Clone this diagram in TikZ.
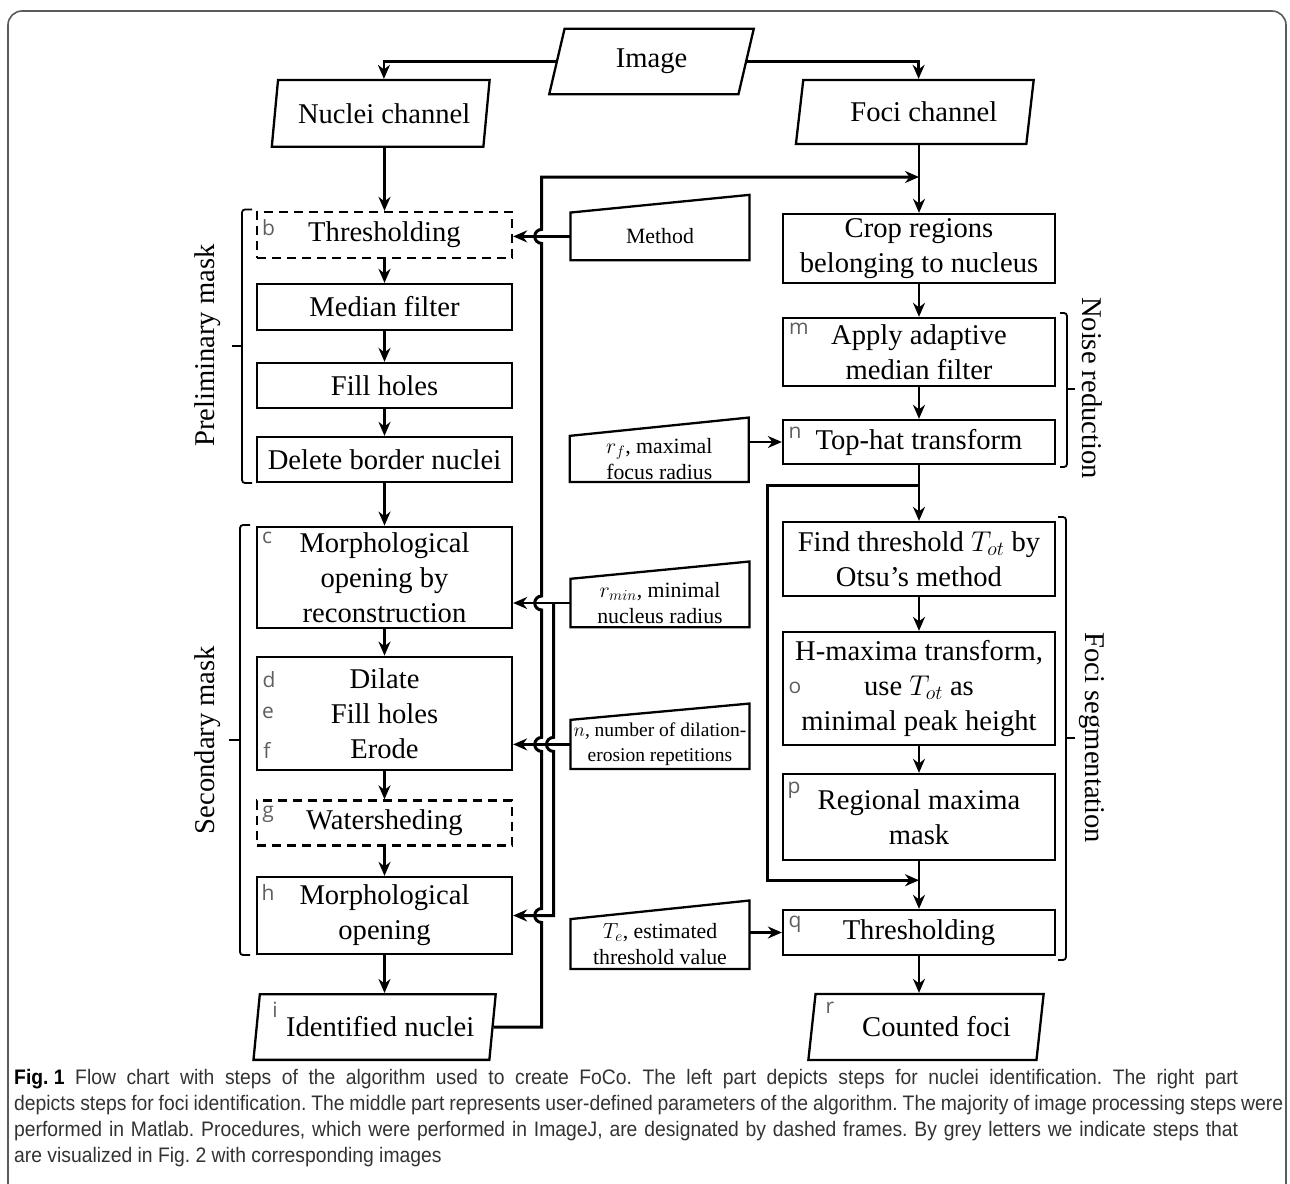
\RequirePackage{fix-cm}
\documentclass[tikz,border=0pt]{standalone}
\usepackage{fontspec}
\setmainfont{Liberation Serif}
\newfontfamily\tagfont{Open Sans}
\newfontfamily\capfont[FakeStretch=0.92]{Liberation Sans}
\usetikzlibrary{shapes.geometric,arrows.meta,calc}
\definecolor{taggray}{RGB}{95,95,95}
\definecolor{framegray}{RGB}{90,90,90}
\definecolor{captext}{RGB}{50,50,50}

\begin{document}
\begin{tikzpicture}[x=1pt, y=-1pt,
	 boxtext/.style={font=\fontsize{28.6}{35}\selectfont, align=center},
	 procbox/.style={boxtext, draw, line width=2.3pt, inner sep=3pt, minimum width=255pt},
	 rightbox/.style={procbox, minimum width=272pt},
	 imagejbox/.style={procbox, dash pattern=on 9pt off 6pt},
	 iobox/.style={boxtext, draw, line width=2.3pt, trapezium, trapezium left angle=77,
	   trapezium right angle=103, trapezium stretches=true, inner sep=2pt},
	 parambox/.style={font=\fontsize{21.8}{26}\selectfont, align=center, minimum width=178.6pt, inner sep=1pt},
	 tag/.style={font=\tagfont\fontsize{21}{21}\selectfont, text=taggray, inner sep=0pt},
	 grouplabel/.style={boxtext, inner sep=0pt},
	 capline/.style={anchor=west, inner sep=0pt, font=\capfont\fontsize{21}{21}\selectfont\frenchspacing, text=captext},
	 arr/.style={line width=2.3pt, -{Stealth[length=14pt,width=12pt]}},
	 bus/.style={line width=3pt},
	 brace/.style={line width=1.8pt, rounded corners=3pt}]
	\useasboundingbox (0,0) rectangle (1290,1183);
	\draw[framegray, line width=1.6pt, rounded corners=14pt] (8,1190) -- (8,11) -- (1286,11) -- (1286,1190);

	% inputs
	\node[iobox, minimum width=205.7pt, minimum height=65.6pt] (img) at (651.5,61.5) {Image};
	\node[iobox, minimum width=218.5pt, minimum height=66.7pt] (nuc) at (380.7,113.4) {\hspace*{7pt}Nuclei channel};
	\node[iobox, minimum width=238.4pt, minimum height=64pt] (foc) at (914.8,112) {\hspace*{18pt}Foci channel};

	% nuclei steps
	\node[imagejbox, minimum height=46pt] (thr) at (384.5,235) {Thresholding};
	\node[procbox, minimum height=46pt] (med) at (384.5,307) {Median filter};
	\node[procbox, minimum height=45pt] (fill) at (384.5,385.5) {Fill holes};
	\node[procbox, minimum height=45pt] (del) at (384.5,459.5) {Delete border nuclei};
	\node[procbox, minimum height=101.5pt] (rec) at (384.5,577.5) {Morphological\\opening by\\reconstruction};
	\node[procbox, minimum height=113.5pt] (dil) at (384.5,713.5) {Dilate\\Fill holes\\Erode};
	\node[imagejbox, minimum height=45pt] (wat) at (384.5,823) {Watersheding};
	\node[procbox, minimum height=77pt] (mop) at (384.5,915.5) {Morphological\\opening};
	\node[iobox, minimum width=242.7pt, minimum height=65.7pt] (iden) at (374.6,1027) {\hspace*{11pt}Identified nuclei};

	% foci steps
	\node[rightbox, minimum height=69pt] (crop) at (919,248.5) {Crop regions\\belonging to nucleus};
	\node[rightbox, minimum height=68pt] (adm) at (919,352) {Apply adaptive\\median filter};
	\node[rightbox, minimum height=44pt] (toph) at (919,442) {Top-hat transform};
	\node[rightbox, minimum height=74pt] (find) at (919,559) {Find threshold $T_{ot}$ by\\Otsu’s method};
	\node[rightbox, minimum height=113pt] (hmax) at (919,688.5) {H-maxima transform,\\use $T_{ot}$ as\\minimal peak height};
	\node[rightbox, minimum height=86pt] (regm) at (919,817) {Regional maxima\\mask};
	\node[rightbox, minimum height=45pt] (thq) at (919,932.5) {Thresholding};
	\node[iobox, minimum width=235.7pt, minimum height=66pt] (cnt) at (926,1027) {\hspace*{21pt}Counted foci};

	% user parameters
	\node[parambox, minimum height=47.3pt] (meth) at (660,236.4) {Method};
	\node[parambox, minimum height=45.7pt] (rf) at (659.3,458.9) {$r_f$, maximal\\focus radius};
	\node[parambox, minimum height=48pt] (rmin) at (660,603) {$r_{min}$, minimal\\nucleus radius};
	\node[parambox, minimum height=48.7pt, font=\fontsize{19.5}{25}\selectfont] (npar) at (660,744.4) {$n$, number of dilation-\\erosion repetitions};
	\node[parambox, minimum height=49.4pt] (te) at (660,944) {$T_e$, estimated\\threshold value};
	\foreach \p/\h in {meth/17.7, rf/18.3, rmin/17.3, npar/16.3, te/18.6}
	  \draw[line width=2.3pt] (\p.south west) -- (\p.north west) -- ([yshift=\h pt]\p.north east) -- (\p.south east) -- cycle;

	% grey letters
	\node[tag] (tb) at (268.5,227.5) {b};
	\node[tag] (tc) at (267,538) {c};
	\node[tag] (td) at (269,680) {d};
	\node[tag] (te2) at (268,713) {e};
	\node[tag] (tf) at (267,750) {f};
	\node[tag] (tg) at (268,814) {g};
	\node[tag] (th) at (268,893) {h};
	\node[tag] (ti) at (275,1010) {i};
	\node[tag] (tm) at (799,329) {m};
	\node[tag] (tn) at (795,433) {n};
	\node[tag] (to) at (795,688) {o};
	\node[tag] (tp) at (794,790) {p};
	\node[tag] (tq) at (795,924) {q};
	\node[tag] (tr) at (830,1008) {r};

	% groups
	\node[grouplabel, rotate=90] (prelim) at (208,345.5) {Preliminary mask};
	\node[grouplabel, rotate=90] (second) at (208,740) {Secondary mask};
	\node[grouplabel, rotate=-90] (noise) at (1092,388) {Noise reduction};
	\node[grouplabel, rotate=-90] (fseg) at (1092,738) {Foci segmentation};
	\draw[brace] (252,209.5) -- (242,209.5) -- (242,483) -- (252,483);
	\draw[brace] (242,345.7) -- (232,345.7);
	\draw[brace] (250,525) -- (240,525) -- (240,955) -- (250,955);
	\draw[brace] (240,740) -- (229,740);
	\draw[brace] (1060,313) -- (1067,313) -- (1067,467) -- (1060,467);
	\draw[brace] (1067,389) -- (1075,389);
	\draw[brace] (1058,517) -- (1066,517) -- (1066,960) -- (1058,960);
	\draw[brace] (1066,738) -- (1075,738);

	% flow
	\draw[arr] (img.left side) -| (nuc.top side);
	\draw[arr] (img.right side) -| (foc.top side);
	\draw[arr] (thr.north |- nuc.south) -- (thr.north);
	\foreach \a/\b in {thr/med, med/fill, fill/del, del/rec, rec/dil, dil/wat, wat/mop}
	  \draw[arr] (\a.south) -- (\b.north);
	\draw[arr] (mop.south) -- (mop.south |- iden.north);
	\draw[arr] (crop.north |- foc.south) -- (crop.north);
	\foreach \a/\b in {crop/adm, adm/toph, toph/find, find/hmax, hmax/regm, regm/thq}
	  \draw[arr] (\a.south) -- (\b.north);
	\draw[arr] (thq.south) -- (thq.south |- cnt.north);

	% parameters into steps
	\draw[arr] (meth.west) -- (meth.west -| thr.east);
	\draw[arr] (rmin.west) -- (rmin.west -| rec.east);
	\draw[arr] (npar.west) -- (npar.west -| dil.east);
	\draw[arr] (toph.west -| rf.east) -- (toph.west);
	\draw[arr] (thq.west -| te.east) -- (thq.west);

	% feedback of top-hat image
	\coordinate (fbx) at (767.7,0);
	\coordinate (fbsplit) at ($(toph.south)!0.36!(find.north)$);
	\coordinate (fbjoin) at ($(regm.south)!0.4!(thq.north)$);
	\draw[arr, line width=2.6pt] (fbsplit) -- (fbsplit -| fbx) -- (fbjoin -| fbx) -- (fbjoin);

	% nucleus mask to foci, r_min to last opening
	\coordinate (busA) at (541.7,0);
	\coordinate (busB) at (553.5,0);
	\coordinate (looptop) at (0,177);
	\draw[arr, bus] (busB |- rmin.west) -- ($(busB |- npar.west)+(0,7pt)$) arc (90:270:7pt)
	  -- (busB |- mop.east) -- (mop.east);
	\draw[arr, bus] (iden.right side) -- (iden.right side -| busA)
	  -- ($(busA |- mop.east)+(0,-7pt)$) arc (270:90:7pt)
	  -- ($(busA |- npar.west)+(0,-7pt)$) arc (270:90:7pt)
	  -- ($(busA |- rmin.west)+(0,-7pt)$) arc (270:90:7pt)
	  -- ($(busA |- meth.west)+(0,-7pt)$) arc (270:90:7pt)
	  -- (busA |- looptop) -- (crop.north |- looptop);

	% caption
	\node[capline] (cap1) at (14,1079) {\makebox[1224pt][s]{\mbox{\color{black}\bfseries Fig.\ 1} Flow chart with steps of the algorithm used to create FoCo. The left part depicts steps for nuclei identification. The right part}};
	\node[capline] (cap2) at (14,1105) {\makebox[1269pt][s]{depicts steps for foci identification. The middle part represents user-defined parameters of the algorithm. The majority of image processing steps were}};
	\node[capline] (cap3) at (14,1131) {\makebox[1224pt][s]{performed in Matlab. Procedures, which were performed in ImageJ, are designated by dashed frames. By grey letters we indicate steps that}};
	\node[capline] (cap4) at (14,1157) {are visualized in Fig. 2 with corresponding images};
\end{tikzpicture}
\end{document}
